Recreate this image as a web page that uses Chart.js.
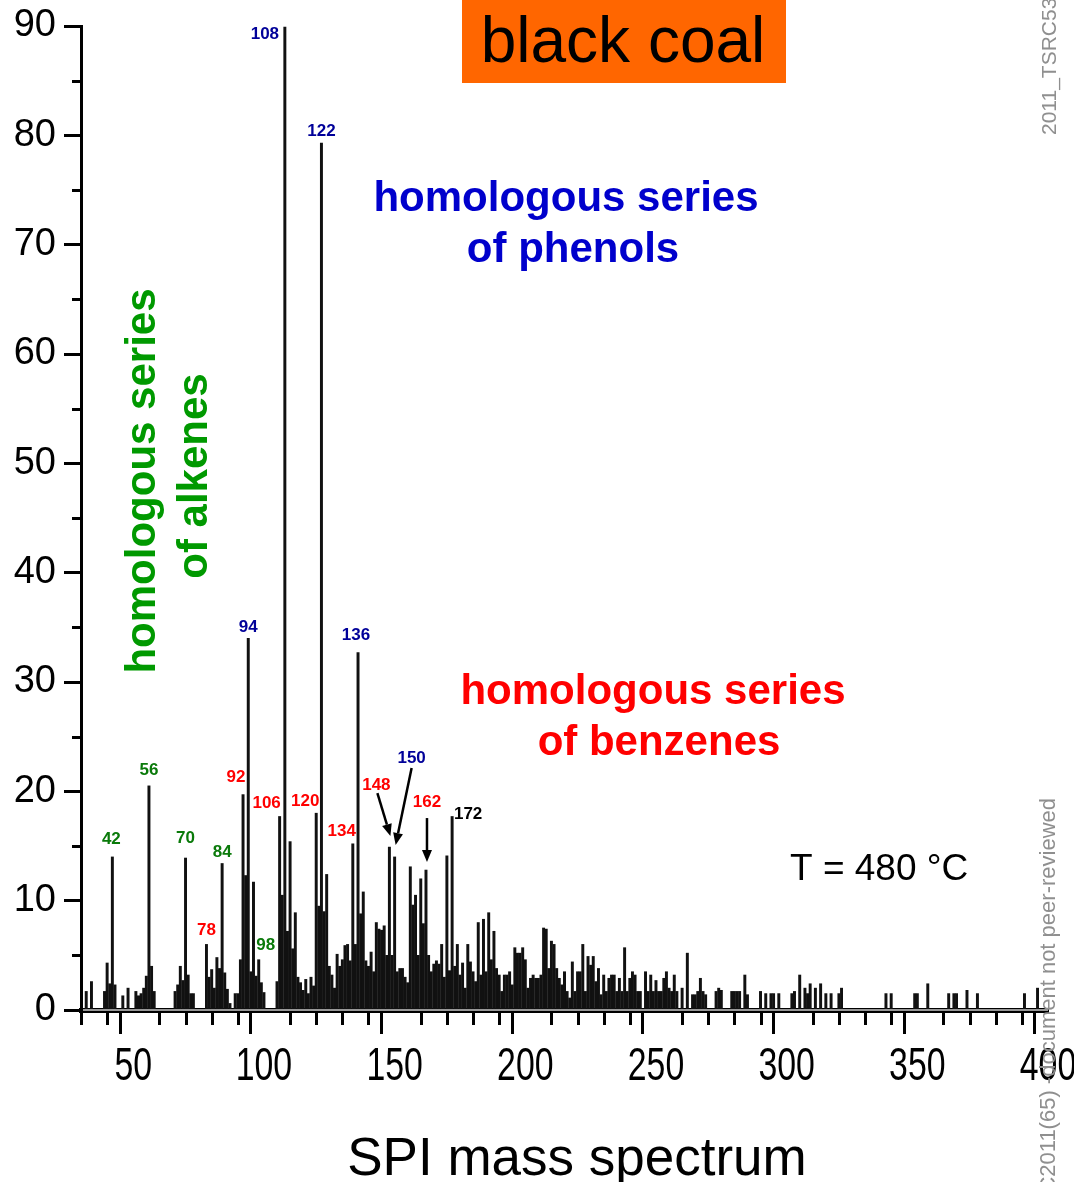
<!DOCTYPE html>
<html>
<head>
<meta charset="utf-8">
<script src="https://cdn.jsdelivr.net/npm/chart.js@4.4.1/dist/chart.umd.min.js"></script>
<style>
html,body{margin:0;padding:0;background:#fff;overflow:hidden;}
canvas{display:block;}
</style>
</head>
<body>
<canvas id="spec" width="1074" height="1182"></canvas>
<script>
// ---- data: [m/z, intensity] ----
const peaksAlkeneRegion = [
  [32,1.7],[34,2.6],[39,1.7],[40,4.3],[41,2.4],[42,14.0],[43,2.3],[46,1.3],[48,2.0],[51,1.7],
  [52,1.3],[53,1.5],[54,2.0],[55,3.1],[56,20.5],[57,4.0],[58,1.7],[66,1.7],[67,2.3],[68,4.0],
  [69,2.7],[70,13.9],[71,3.2],[72,1.5],[73,1.5],[78,6.0],[79,3.0],[80,3.7],[81,2.0],[82,4.8],
  [83,3.8],[84,13.4],[85,3.4],[86,1.9],[87,0.6],[89,1.5],[90,1.5],[91,4.6],[92,19.7],[93,12.3],
  [94,34.0],[95,3.5],[96,11.7],[97,3.1],[98,4.6],[99,2.5],[100,1.6]
];
const peaksAromaticRegion = [
  [105,2.6],[106,17.7],[107,10.5],[108,89.9],[109,7.2],[110,15.4],[111,5.6],[112,8.9],[113,3.0],[114,2.5],
  [115,1.8],[116,2.8],[117,1.5],[118,3.0],[119,2.2],[120,18.0],[121,9.5],[122,79.3],[123,9.0],[124,12.4],
  [125,4.0],[126,3.2],[127,2.0],[128,5.1],[129,4.0],[130,4.6],[131,5.9],[132,6.0],[133,4.5],[134,15.2],
  [135,6.0],[136,32.7],[137,8.8],[138,10.8],[139,4.5],[140,4.0],[141,5.3],[142,3.5],[143,8.0],[144,7.4],
  [145,7.3],[146,7.7],[147,5.0],[148,14.9],[149,5.0],[150,14.0],[151,3.5],[152,3.8],[153,3.8],[154,3.0],
  [155,2.5],[156,13.1],[157,9.6],[158,10.5],[159,5.0],[160,12.0],[161,7.9],[162,12.8],[163,5.0],[164,3.5],
  [165,4.2],[166,4.5],[167,4.2],[168,6.0],[169,3.0],[170,14.1],[171,3.6],[172,17.7]
];
const peaksHeavyRegion = [
  [173,4.0],[174,6.0],[175,3.2],[176,4.3],[177,2.0],[178,6.0],[179,4.4],[180,3.5],[181,2.6],[182,8.0],
  [183,3.2],[184,8.3],[185,3.5],[186,8.9],[187,4.6],[188,7.2],[189,3.8],[190,3.2],[191,1.7],[192,3.2],
  [193,3.2],[194,3.5],[195,2.3],[196,5.7],[197,5.2],[198,5.2],[199,5.7],[200,4.6],[201,2.0],[202,2.9],
  [203,3.2],[204,2.9],[205,2.9],[206,3.2],[207,7.5],[208,7.4],[209,3.8],[210,6.3],[211,6.0],[212,3.8],
  [213,2.9],[214,2.3],[215,3.5],[216,1.7],[217,1.1],[218,4.4],[219,1.7],[220,3.5],[221,3.5],[222,6.0],
  [223,1.7],[224,4.9],[225,4.1],[226,4.9],[227,2.6],[228,3.8],[229,1.4],[230,3.2],[231,1.7],[232,2.9],
  [233,3.2],[234,3.2],[235,1.7],[236,2.9],[237,1.7],[238,5.7],[239,1.7],[240,2.9],[241,3.5],[242,3.2],
  [243,1.7],[244,1.7],[246,3.5],[247,1.7],[248,3.2],[249,1.7],[250,2.7],[251,1.7],[252,1.7],[253,2.9],
  [254,3.5],[255,2.0],[256,1.7],[257,3.2],[258,1.7],[260,2.0],[262,5.2],[264,1.4],[265,1.4],[266,1.7],
  [267,2.9],[268,1.7],[269,1.4]
];
const peaksTail = [
  [273,1.7],[274,2.0],[275,1.8],[279,1.7],[280,1.7],[281,1.7],[282,1.7],[284,3.2],[285,1.4],[290,1.7],
  [292,1.5],[294,1.5],[295,1.5],[297,1.5],[302,1.5],[303,1.7],[305,3.2],[307,2.0],[308,1.5],[309,2.4],
  [311,2.0],[313,2.4],[315,1.5],[317,1.5],[320,1.5],[321,2.0],[338,1.5],[340,1.5],[349,1.5],[350,1.5],
  [354,2.4],[362,1.5],[364,1.5],[365,1.5],[369,1.8],[373,1.5],[391,1.5],[396,2.0]
];
const xTickLabels = [50,100,150,200,250,300,350,400];
const yTickLabels = [0,10,20,30,40,50,60,70,80,90];

// ---- annotation styling (not data) ----
const GREEN_S = '#0a7a0a', RED = '#ff0000', NAVY = '#000099', BLACK = '#000000';
const peakLabels = [
  {t:'42', m:42, c:GREEN_S, dx:-1, dy:-18},
  {t:'56', m:56, c:GREEN_S, dx:0, dy:-16},
  {t:'70', m:70, c:GREEN_S, dx:0, dy:-20},
  {t:'84', m:84, c:GREEN_S, dx:0, dy:-11},
  {t:'98', m:98, c:GREEN_S, dx:7, dy:-14},
  {t:'78', m:78, c:RED, dx:0, dy:-14},
  {t:'92', m:92, c:RED, dx:-7, dy:-17},
  {t:'106', m:106, c:RED, dx:-13, dy:-13},
  {t:'120', m:120, c:RED, dx:-11, dy:-12},
  {t:'134', m:134, c:RED, dx:-11, dy:-13},
  {t:'148', m:148, c:RED, dx:-13, dy:-62},
  {t:'162', m:162, c:RED, dx:1, dy:-68},
  {t:'108', m:108, c:NAVY, dx:-20, dy:7},
  {t:'122', m:122, c:NAVY, dx:0, dy:-12},
  {t:'94', m:94, c:NAVY, dx:0, dy:-11},
  {t:'136', m:136, c:NAVY, dx:-2, dy:-17},
  {t:'150', m:150, c:NAVY, dx:17, dy:-99},
  {t:'172', m:172, c:BLACK, dx:16, dy:-2}
];
const arrows = [
  {m:148, fx:-12, fy:-54, tx:1, ty:-11},
  {m:150, fx:17, fy:-89, tx:1, ty:-12},
  {m:162, fx:1, fy:-52, tx:1, ty:-8}
];

const allPeaks = [...peaksAlkeneRegion, ...peaksAromaticRegion, ...peaksHeavyRegion, ...peaksTail];
const valueAt = m => { const p = allPeaks.find(q => q[0] === m); return p ? p[1] : 0; };

const SANS = "'Liberation Sans', Arial, Helvetica, sans-serif";

const deco = {
  id: 'deco',
  afterDraw(chart) {
    const ctx = chart.ctx;
    const xs = chart.scales.x, ys = chart.scales.y;
    ctx.save();
    // minor ticks
    ctx.strokeStyle = '#000'; ctx.lineWidth = 3;
    xs.ticks.forEach(t => {
      if (t.value % 50 !== 0) {
        const p = Math.round(xs.getPixelForValue(t.value)) + 0.5;
        ctx.beginPath(); ctx.moveTo(p, xs.top + 2); ctx.lineTo(p, xs.top + 15); ctx.stroke();
      }
    });
    ys.ticks.forEach(t => {
      if (t.value % 10 !== 0) {
        const p = Math.round(ys.getPixelForValue(t.value)) + 0.5;
        ctx.beginPath(); ctx.moveTo(ys.right, p); ctx.lineTo(ys.right - 9, p); ctx.stroke();
      }
    });
    // double-line look of the x axis
    ctx.strokeStyle = '#c8c8c8'; ctx.lineWidth = 1.5;
    ctx.beginPath(); ctx.moveTo(xs.left + 2, xs.top); ctx.lineTo(xs.right, xs.top); ctx.stroke();

    // x tick labels (condensed, like the original narrow face)
    ctx.fillStyle = '#000';
    ctx.font = '47px ' + SANS;
    ctx.textAlign = 'center'; ctx.textBaseline = 'alphabetic';
    xTickLabels.forEach(v => {
      const p = xs.getPixelForValue(v);
      ctx.save(); ctx.translate(p, xs.top + 70); ctx.scale(0.72, 1);
      ctx.fillText(String(v), 0, 0); ctx.restore();
    });

    // peak labels
    ctx.font = 'bold 17px ' + SANS;
    ctx.textAlign = 'center'; ctx.textBaseline = 'middle';
    peakLabels.forEach(l => {
      ctx.fillStyle = l.c;
      ctx.fillText(l.t, xs.getPixelForValue(l.m) + l.dx, ys.getPixelForValue(valueAt(l.m)) + l.dy);
    });
    // arrows
    ctx.strokeStyle = '#000'; ctx.fillStyle = '#000'; ctx.lineWidth = 2.5;
    arrows.forEach(a => {
      const bx = xs.getPixelForValue(a.m), by = ys.getPixelForValue(valueAt(a.m));
      const x1 = bx + a.fx, y1 = by + a.fy, x2 = bx + a.tx, y2 = by + a.ty;
      const ang = Math.atan2(y2 - y1, x2 - x1);
      const hl = 12, hw = 5;
      const hx = x2 - hl * Math.cos(ang), hy = y2 - hl * Math.sin(ang);
      ctx.beginPath(); ctx.moveTo(x1, y1); ctx.lineTo(hx, hy); ctx.stroke();
      ctx.beginPath();
      ctx.moveTo(x2, y2);
      ctx.lineTo(hx + hw * Math.sin(ang), hy - hw * Math.cos(ang));
      ctx.lineTo(hx - hw * Math.sin(ang), hy + hw * Math.cos(ang));
      ctx.closePath(); ctx.fill();
    });

    // title box
    ctx.fillStyle = '#ff6600';
    ctx.fillRect(462, 0, 324, 83);
    ctx.fillStyle = '#000';
    ctx.textBaseline = 'alphabetic'; ctx.textAlign = 'center';
    ctx.font = '64px ' + SANS;
    ctx.fillText('black coal', 623, 62);

    // series descriptions
    ctx.font = 'bold 42px ' + SANS;
    ctx.fillStyle = '#0000cc';
    ctx.fillText('homologous series', 566, 211);
    ctx.fillText('of phenols', 573, 262);
    ctx.fillStyle = '#ff0000';
    ctx.fillText('homologous series', 653, 704);
    ctx.fillText('of benzenes', 659, 755);
    ctx.fillStyle = '#009900';
    ctx.save(); ctx.translate(155, 481); ctx.rotate(-Math.PI / 2);
    ctx.fillText('homologous series', 0, 0); ctx.restore();
    ctx.save(); ctx.translate(207, 476); ctx.rotate(-Math.PI / 2);
    ctx.fillText('of alkenes', 0, 0); ctx.restore();

    // temperature
    ctx.fillStyle = '#000';
    ctx.font = '37px ' + SANS; ctx.textAlign = 'left';
    ctx.fillText('T = 480 °C', 790, 880);

    // bottom title
    ctx.font = '53px ' + SANS; ctx.textAlign = 'center';
    ctx.fillText('SPI mass spectrum', 577, 1175);

    // side watermarks
    ctx.fillStyle = '#8f8f8f';
    ctx.font = '21px ' + SANS;
    ctx.save(); ctx.translate(1056, 135); ctx.rotate(-Math.PI / 2);
    ctx.textAlign = 'left'; ctx.fillText('2011_TSRC53', 0, 0); ctx.restore();
    ctx.font = '22px ' + SANS;
    ctx.save(); ctx.translate(1055, 798); ctx.rotate(-Math.PI / 2);
    ctx.textAlign = 'right'; ctx.fillText('C2011(65) -document not peer-reviewed', 0, 0); ctx.restore();
    ctx.restore();
  }
};

new Chart(document.getElementById('spec'), {
  type: 'bar',
  data: {
    datasets: [{
      data: allPeaks.map(p => ({x: p[0], y: p[1]})),
      backgroundColor: '#111111',
      borderWidth: 0,
      barThickness: 2.3,
      grouped: false
    }]
  },
  options: {
    responsive: false,
    animation: false,
    devicePixelRatio: 1,
    layout: {padding: {left: 0, right: 26, top: 26, bottom: 0}},
    plugins: {legend: {display: false}, tooltip: {enabled: false}, title: {display: false}},
    scales: {
      x: {
        type: 'linear', min: 30, max: 400, offset: false,
        ticks: {
          stepSize: 10, autoSkip: false, maxRotation: 0, minRotation: 0,
          callback: () => '',
          font: {family: SANS, size: 20}, color: '#000', padding: 4
        },
        grid: {
          display: true, drawOnChartArea: false, drawTicks: true, tickLength: 24, tickWidth: 3,
          tickColor: c => (c.tick && c.tick.value % 50 === 0) ? '#000' : 'rgba(0,0,0,0)'
        },
        border: {display: true, color: '#000', width: 5},
        afterFit: s => { s.height = 172; s.paddingLeft = 0; s.paddingRight = 0; }
      },
      y: {
        min: 0, max: 90,
        ticks: {
          stepSize: 5, autoSkip: false,
          callback: v => yTickLabels.includes(v) ? String(v) : '',
          font: {family: SANS, size: 38}, color: '#000', padding: 8
        },
        grid: {
          display: true, drawOnChartArea: false, drawTicks: true, tickLength: 17, tickWidth: 3,
          tickColor: c => (c.tick && c.tick.value % 10 === 0) ? '#000' : 'rgba(0,0,0,0)'
        },
        border: {display: true, color: '#000', width: 3},
        afterFit: s => { s.width = 81; s.paddingTop = 0; s.paddingBottom = 0; }
      }
    }
  },
  plugins: [deco]
});
</script>
</body>
</html>
